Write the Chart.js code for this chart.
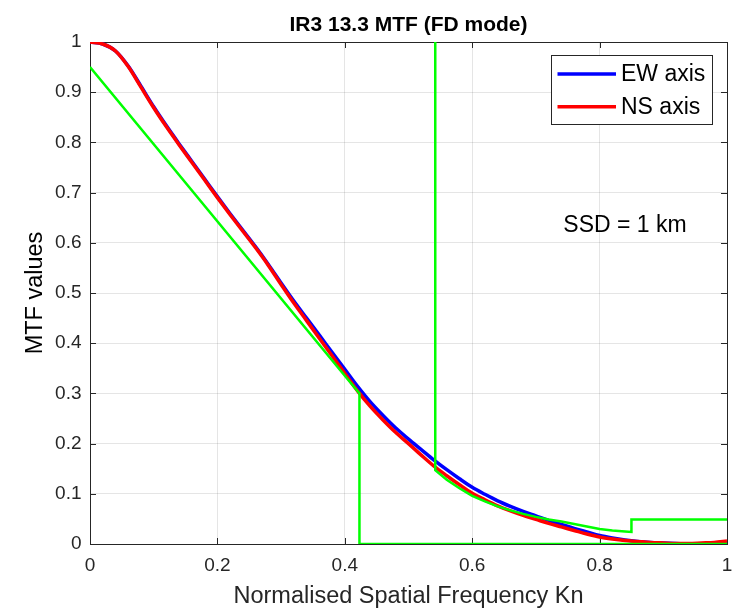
<!DOCTYPE html>
<html>
<head>
<meta charset="utf-8">
<script src="https://cdn.jsdelivr.net/npm/chart.js@4.4.1/dist/chart.umd.min.js"></script>
<style>
  html, body { margin: 0; padding: 0; background: #ffffff; }
  #wrap { width: 733px; height: 608px; }
</style>
</head>
<body>
<div id="wrap"><canvas id="c" width="733" height="608"></canvas></div>
<script>
// ---------- data ----------
const chartTitle = "IR3 13.3 MTF (FD mode)";
const xAxisTitle = "Normalised Spatial Frequency Kn";
const yAxisTitle = "MTF values";
const annotationText = "SSD = 1 km";
const seriesNames = ["EW axis", "NS axis"];

const kn = [0.00,0.02,0.04,0.06,0.08,0.10,0.12,0.14,0.16,0.18,
            0.20,0.22,0.24,0.26,0.28,0.30,0.32,0.34,0.36,0.38,
            0.40,0.42,0.44,0.46,0.48,0.50,0.52,0.54,0.56,0.58,
            0.60,0.62,0.64,0.66,0.68,0.70,0.72,0.74,0.76,0.78,
            0.80,0.82,0.84,0.86,0.88,0.90,0.92,0.94,0.96,0.98,1.00];

const ewValues = [1.000,0.996,0.982,0.952,0.912,0.871,0.833,0.797,0.762,0.727,
                  0.692,0.658,0.625,0.592,0.557,0.520,0.484,0.450,0.416,0.382,
                  0.348,0.314,0.283,0.256,0.231,0.209,0.188,0.167,0.148,0.130,
                  0.113,0.099,0.086,0.075,0.065,0.056,0.047,0.039,0.031,0.024,
                  0.017,0.012,0.008,0.005,0.003,0.002,0.001,0.000,0.000,0.000,0.000];

const nsValues = [1.000,0.996,0.982,0.951,0.910,0.869,0.831,0.795,0.760,0.725,
                  0.690,0.656,0.623,0.590,0.555,0.517,0.480,0.445,0.410,0.375,
                  0.340,0.305,0.274,0.247,0.222,0.200,0.177,0.155,0.136,0.118,
                  0.101,0.088,0.076,0.066,0.057,0.049,0.041,0.034,0.027,0.020,
                  0.014,0.010,0.007,0.005,0.003,0.002,0.001,0.001,0.002,0.003,0.006];

const lowerLimitX = [0.000, 0.423, 0.423, 1.000];
const lowerLimitY = [0.950, 0.300, 0.000, 0.000];

const upperLimitX = [0.542,0.542,0.56,0.58,0.60,0.62,0.64,0.66,0.68,0.70,
                     0.72,0.74,0.76,0.78,0.80,0.82,0.84,0.85,0.85,1.00];
const upperLimitY = [1.000,0.147,0.128,0.111,0.096,0.085,0.075,0.067,0.060,0.054,
                     0.049,0.045,0.040,0.035,0.030,0.027,0.025,0.024,0.049,0.049];

const xTickLabels = ["0","0.2","0.4","0.6","0.8","1"];
const yTickLabels = ["0","0.1","0.2","0.3","0.4","0.5","0.6","0.7","0.8","0.9","1"];

// annotation anchor (data coords)
const annotationX = 0.743;
const annotationY = 0.635;

// ---------- helpers ----------
const FONT = "'Liberation Sans', Arial, Helvetica, sans-serif";
const AX = '#262626';
function pts(xs, ys) { return xs.map((x, i) => ({ x: x, y: ys[i] })); }

const matlabPlugin = {
  id: 'matlabDecor',
  beforeDatasetsDraw(chart) {
    const { ctx, chartArea: a, scales } = chart;
    ctx.save();
    ctx.strokeStyle = AX;
    ctx.lineWidth = 1;
    ctx.strokeRect(Math.round(a.left) + 0.5, Math.round(a.top) + 0.5,
                   Math.round(a.right - a.left), Math.round(a.bottom - a.top));
    const tl = 6;
    ctx.beginPath();
    scales.x.ticks.forEach(t => {
      const px = Math.round(scales.x.getPixelForValue(t.value)) + 0.5;
      ctx.moveTo(px, a.bottom); ctx.lineTo(px, a.bottom - tl);
      ctx.moveTo(px, a.top); ctx.lineTo(px, a.top + tl);
    });
    scales.y.ticks.forEach(t => {
      const py = Math.round(scales.y.getPixelForValue(t.value)) + 0.5;
      ctx.moveTo(a.left, py); ctx.lineTo(a.left + tl, py);
      ctx.moveTo(a.right, py); ctx.lineTo(a.right - tl, py);
    });
    ctx.stroke();
    ctx.restore();
  },
  afterDraw(chart) {
    const { ctx, chartArea: a, scales } = chart;
    ctx.save();
    ctx.fillStyle = '#000000';
    ctx.font = 'bold 21px ' + FONT;
    ctx.textAlign = 'center';
    ctx.textBaseline = 'middle';
    ctx.fillText(chartTitle, (a.left + a.right) / 2, 25);

    ctx.font = '23px ' + FONT;
    ctx.textAlign = 'left';
    ctx.fillText(annotationText, scales.x.getPixelForValue(annotationX), scales.y.getPixelForValue(annotationY));

    const bx = 551, by = 55, bw = 161, bh = 69;
    ctx.fillStyle = '#ffffff';
    ctx.fillRect(bx, by, bw, bh);
    ctx.strokeStyle = AX;
    ctx.lineWidth = 1;
    ctx.strokeRect(bx + 0.5, by + 0.5, bw, bh);
    const legendItems = [chart.data.datasets[2], chart.data.datasets[3]];
    legendItems.forEach((ds, i) => {
      const ly = 74 + i * 32.7;
      ctx.strokeStyle = ds.borderColor;
      ctx.lineWidth = 3.5;
      ctx.beginPath();
      ctx.moveTo(557.5, ly); ctx.lineTo(616, ly);
      ctx.stroke();
      ctx.fillStyle = '#000000';
      ctx.font = '23px ' + FONT;
      ctx.textAlign = 'left';
      ctx.textBaseline = 'middle';
      ctx.fillText(ds.label, 621, ly + 1);
    });
    ctx.restore();
  }
};

new Chart(document.getElementById('c'), {
  type: 'line',
  data: {
    datasets: [
      { label: 'upper limit', data: pts(upperLimitX, upperLimitY), borderColor: '#00ff00',
        borderWidth: 2.5, pointRadius: 0, tension: 0, order: 0 },
      { label: 'lower limit', data: pts(lowerLimitX, lowerLimitY), borderColor: '#00ff00',
        borderWidth: 2.5, pointRadius: 0, tension: 0, order: 1 },
      { label: seriesNames[0], data: pts(kn, ewValues), borderColor: '#0000ff',
        borderWidth: 3.5, pointRadius: 0, cubicInterpolationMode: 'monotone', order: 3 },
      { label: seriesNames[1], data: pts(kn, nsValues), borderColor: '#ff0000',
        borderWidth: 3.5, pointRadius: 0, cubicInterpolationMode: 'monotone', order: 2 }
    ]
  },
  options: {
    responsive: false,
    animation: false,
    devicePixelRatio: 1,
    layout: { padding: { top: 42, right: 6, left: 0, bottom: 0 } },
    plugins: { legend: { display: false }, title: { display: false }, tooltip: { enabled: false } },
    scales: {
      x: {
        type: 'linear', min: 0, max: 1,
        afterFit(s) { s.height = 64; s.paddingLeft = 0; s.paddingRight = 0; },
        ticks: {
          stepSize: 0.2, padding: 10.4, color: AX, maxRotation: 0, autoSkip: false,
          font: { family: FONT, size: 19, lineHeight: 1.2 },
          callback: (v, i) => xTickLabels[i]
        },
        grid: { color: 'rgba(38,38,38,0.12)', drawTicks: false, lineWidth: 1 },
        border: { color: AX, width: 1 },
        title: { display: true, text: xAxisTitle, color: AX,
                 font: { family: FONT, size: 23.5, lineHeight: 1 }, padding: { top: 0, bottom: 0 } }
      },
      y: {
        type: 'linear', min: 0, max: 1,
        afterFit(s) { s.width = 90; s.paddingTop = 0; s.paddingBottom = 0; },
        ticks: {
          stepSize: 0.1, padding: 8.5, color: AX, autoSkip: false,
          font: { family: FONT, size: 19, lineHeight: 1.2 },
          callback: (v, i) => yTickLabels[i]
        },
        grid: { color: 'rgba(38,38,38,0.12)', drawTicks: false, lineWidth: 1 },
        border: { color: AX, width: 1 },
        title: { display: true, text: yAxisTitle, color: '#000000',
                 font: { family: FONT, size: 23.5, lineHeight: 1 }, padding: { top: 23.7, bottom: 0 } }
      }
    }
  },
  plugins: [matlabPlugin]
});
</script>
</body>
</html>
